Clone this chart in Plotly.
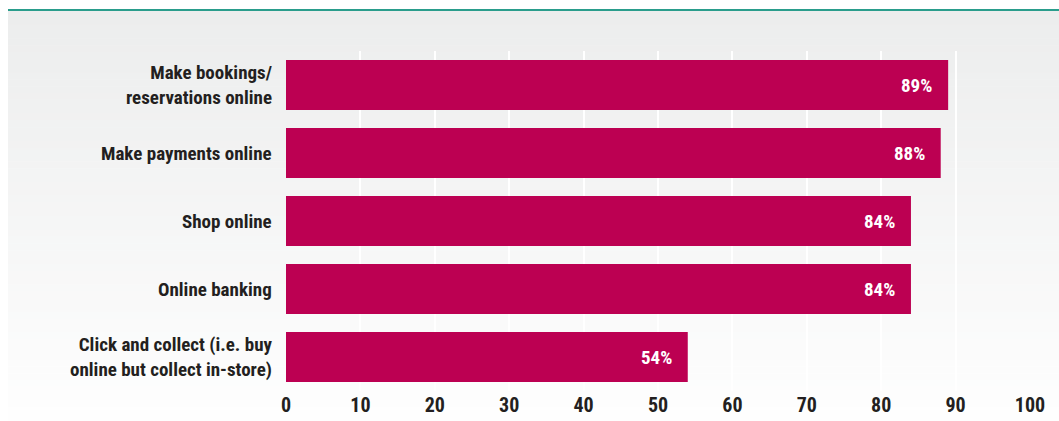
import plotly.graph_objects as go

# Survey: share of respondents who do each activity online
categories = [
    "Make bookings/<br>reservations online",
    "Make payments online",
    "Shop online",
    "Online banking",
    "Click and collect (i.e. buy<br>online but collect in-store)",
]
values = [89, 88, 84, 84, 54]
x_ticks = [0, 10, 20, 30, 40, 50, 60, 70, 80, 90, 100]

BAR = "#BC0052"
TEXT = "#231F20"
FONT = "Liberation Sans Narrow, Roboto Condensed, DejaVu Sans Condensed, Arial Narrow, sans-serif"

W, H = 1059, 421
L, R, T, B = 286, 29, 51, 30
plot_w, plot_h = W - L - R, H - T - B


def px_to_paper_x(px):
    return (px - L) / plot_w


def px_to_paper_y(py):
    return (H - B - py) / plot_h


fig = go.Figure()

fig.add_trace(go.Bar(
    x=values,
    y=list(range(len(categories))),
    orientation="h",
    marker=dict(color=BAR, line=dict(width=0)),
    hoverinfo="skip",
))

# Soft vertical grey gradient panel behind the chart
shapes = []
top_px, bot_px = 11, H
n_steps = 60
c_top = (236, 237, 237)
c_bot = (254, 254, 254)
for i in range(n_steps):
    t = i / (n_steps - 1)
    c = tuple(round(a + (b - a) * t) for a, b in zip(c_top, c_bot))
    y0 = top_px + (bot_px - top_px) * i / n_steps
    y1 = top_px + (bot_px - top_px) * (i + 1) / n_steps
    shapes.append(dict(
        type="rect", xref="paper", yref="paper", layer="below",
        x0=px_to_paper_x(8), x1=px_to_paper_x(W + 2),
        y0=px_to_paper_y(y1 + 0.5), y1=px_to_paper_y(y0),
        fillcolor="rgb(%d,%d,%d)" % c, line=dict(width=0),
    ))
# Teal rule across the top
shapes.append(dict(
    type="line", xref="paper", yref="paper",
    x0=px_to_paper_x(8), x1=px_to_paper_x(W + 2),
    y0=px_to_paper_y(10), y1=px_to_paper_y(10),
    line=dict(color="#2A9D8C", width=2),
))

annotations = []
# Category labels to the left of the bars
for idx, cat in enumerate(categories):
    annotations.append(dict(
        x=0, xref="paper", y=idx, yref="y",
        text=cat, showarrow=False, xanchor="right", yanchor="middle",
        align="right", xshift=-12,
        font=dict(family=FONT, size=19, color=TEXT, weight="bold"),
    ))
# Value labels inside the bar ends
for idx, v in enumerate(values):
    annotations.append(dict(
        x=v, xref="x", y=idx, yref="y",
        text=f"{v}%", showarrow=False, xanchor="right", yanchor="middle",
        xshift=-14,
        font=dict(family=FONT, size=19, color="white", weight="bold"),
    ))

fig.update_layout(
    width=W, height=H,
    margin=dict(l=L, r=R, t=T, b=B, pad=0, autoexpand=False),
    paper_bgcolor="white",
    plot_bgcolor="rgba(0,0,0,0)",
    showlegend=False,
    bargap=0.265,
    shapes=shapes,
    annotations=annotations,
    xaxis=dict(
        range=[0, 100], tickvals=x_ticks, ticktext=[str(t) for t in x_ticks],
        showgrid=True, gridcolor="white", gridwidth=2,
        zeroline=False, showline=False, ticks="",
        tickfont=dict(family=FONT, size=20, color=TEXT, weight="bold"),
        automargin=False, fixedrange=True,
    ),
    yaxis=dict(
        range=[len(categories) - 0.5, -0.5],
        showticklabels=False, showgrid=False, zeroline=False,
        showline=False, ticks="", automargin=False, fixedrange=True,
    ),
)

fig.write_html("out.html")
